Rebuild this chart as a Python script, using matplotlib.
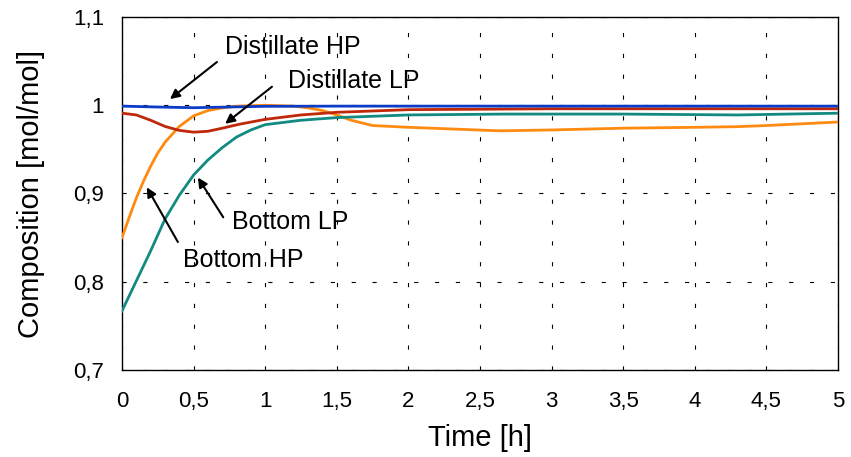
import numpy as np
import matplotlib
matplotlib.use("Agg")
from matplotlib import pyplot as plt
from matplotlib.ticker import FuncFormatter

plt.rcParams["font.family"] = ["Liberation Sans", "DejaVu Sans"]
plt.rcParams["lines.scale_dashes"] = False

# =============================================================================
# data
# =============================================================================

t_bottom_hp = [0, 0.05, 0.1, 0.15, 0.2, 0.25, 0.3, 0.4, 0.5, 0.6, 0.7, 0.8, 1.0,
               1.2, 1.3, 1.4, 1.5, 1.6, 1.75, 2.0, 2.64, 3.0, 3.5, 4.0, 4.29, 4.5, 5.0]
bottom_hp = [0.85, 0.873, 0.895, 0.914, 0.931, 0.946, 0.958, 0.976, 0.988, 0.994, 0.997,
             0.999, 1.0, 0.999, 0.997, 0.994, 0.989, 0.983, 0.977, 0.975, 0.971, 0.972,
             0.974, 0.975, 0.9757, 0.977, 0.981]

t_bottom_lp = [0, 0.1, 0.2, 0.3, 0.4, 0.5, 0.6, 0.7, 0.8, 0.9, 1.0, 1.25, 1.5, 2.0,
               2.67, 3.5, 4.3, 5.0]
bottom_lp = [0.767, 0.801, 0.835, 0.871, 0.898, 0.921, 0.938, 0.952, 0.964, 0.972,
             0.978, 0.983, 0.986, 0.989, 0.990, 0.990, 0.989, 0.991]

t_dist_lp = [0, 0.1, 0.2, 0.3, 0.4, 0.5, 0.6, 0.7, 0.82, 1.0, 1.25, 1.5, 2.0, 3.0, 5.0]
dist_lp = [0.991, 0.989, 0.983, 0.976, 0.9715, 0.9695, 0.9705, 0.974, 0.9785, 0.984,
           0.989, 0.992, 0.995, 0.996, 0.996]

t_dist_hp = [0, 0.25, 0.5, 0.75, 1.0, 1.5, 5.0]
dist_hp = [0.999, 0.998, 0.9972, 0.998, 0.9988, 0.999, 0.999]

x_ticks = np.arange(0, 5.01, 0.5)
y_ticks = np.arange(0.7, 1.101, 0.1)

# =============================================================================
# plot
# =============================================================================

fig = plt.figure(figsize=(8.51, 4.57), dpi=100)
ax = fig.add_axes([0.1434, 0.1904, 0.8413, 0.7724])

ax.plot(t_bottom_hp, bottom_hp, color="#ff8a10", lw=2.0, zorder=3)
ax.plot(t_bottom_lp, bottom_lp, color="#128a82", lw=2.0, zorder=3)
ax.plot(t_dist_lp, dist_lp, color="#c0280a", lw=2.0, zorder=4)
ax.plot(t_dist_hp, dist_hp, color="#0a3cc8", lw=2.0, zorder=5)

ax.set_xlim(0, 5)
ax.set_ylim(0.7, 1.1)
ax.set_xticks(x_ticks)
ax.set_yticks(y_ticks)

comma = FuncFormatter(lambda v, p: ("%g" % round(v, 2)).replace(".", ","))
ax.xaxis.set_major_formatter(comma)
ax.yaxis.set_major_formatter(comma)

ax.tick_params(length=0, labelsize=16)
ax.tick_params(axis="x", pad=15)
ax.tick_params(axis="y", pad=13)

ax.grid(color="black", lw=0.8, linestyle=(0, (3, 12)))
for sp in ax.spines.values():
    sp.set_color("black")
    sp.set_linewidth(1.0)

ax.set_xlabel("Time [h]", fontsize=21, labelpad=9)
ax.set_ylabel("Composition [mol/mol]", fontsize=21, labelpad=20)

# annotations: (text, text pos, arrow tail, arrow head)
labels = [
    ("Distillate HP", (0.719, 1.066), (0.663, 1.049), (0.335, 1.007)),
    ("Distillate LP", (1.159, 1.027), (1.047, 1.021), (0.72, 0.979)),
    ("Bottom LP", (0.766, 0.868), (0.707, 0.873), (0.53, 0.918)),
    ("Bottom HP", (0.428, 0.825), (0.39, 0.845), (0.173, 0.907)),
]
for txt, pos, tail, head in labels:
    ax.text(pos[0], pos[1], txt, fontsize=18, ha="left", va="center", zorder=6)
    ax.annotate(
        "",
        xy=head,
        xytext=tail,
        arrowprops=dict(arrowstyle="-|>", color="black", lw=1.5,
                        mutation_scale=14, shrinkA=0, shrinkB=0),
        zorder=6,
    )

plt.savefig("out.png", dpi=100)
